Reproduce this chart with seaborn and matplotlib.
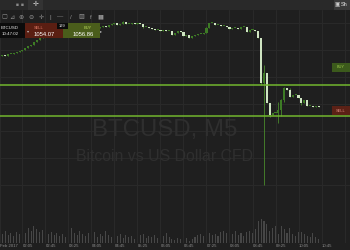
import numpy as np
import pandas as pd
import matplotlib
matplotlib.use("Agg")
import matplotlib.pyplot as plt
from matplotlib.patches import Rectangle
import seaborn as sns

# ---------------- data (5-minute BTCUSD candles) ----------------
first_open = 1064.0
close = [
    1064.2, 1064.4, 1064.2, 1064.6, 1064.6, 1064.8, 1065.0, 1065.2, 1065.4, 1065.8,
    1066.2, 1066.4, 1067.0, 1067.4, 1067.8, 1068.0, 1068.2, 1068.4, 1068.6, 1068.8,
    1068.8, 1069.0, 1069.0, 1069.2, 1069.2, 1069.4, 1069.4, 1069.6, 1069.4, 1069.6,
    1069.6, 1069.8, 1069.8, 1070.0, 1069.8, 1070.0, 1070.2, 1070.0, 1070.4, 1070.6,
    1070.8, 1070.4, 1070.6, 1071.0, 1070.6, 1070.6, 1070.8, 1070.6, 1070.8, 1070.6,
    1070.0, 1070.0, 1069.8, 1069.6, 1069.4, 1069.4, 1069.2, 1069.4, 1069.2, 1069.2,
    1068.4, 1068.8, 1069.2, 1069.0, 1068.2, 1068.4, 1067.8, 1068.2, 1068.4, 1068.6,
    1068.6, 1068.8, 1069.8, 1070.8, 1070.8, 1070.4, 1070.4, 1070.2, 1070.2, 1070.0,
    1069.6, 1069.8, 1069.8, 1069.6, 1070.0, 1070.0, 1069.0, 1069.4, 1069.4, 1069.2,
    1067.8, 1058.8, 1060.8, 1054.8, 1052.4, 1052.8, 1052.8, 1053.4, 1055.4, 1057.8,
    1057.4, 1056.0, 1056.4, 1056.4, 1055.8, 1054.8, 1055.4, 1054.2, 1054.2, 1054.0,
    1054.2, 1054.0,
]
# visible wick extremes (candle index -> price)
wick_high = {43: 1071.2, 72: 1070.0, 91: 1067.8, 92: 1062.4, 93: 1060.8, 97: 1055.0,
             98: 1055.6, 99: 1058.0, 101: 1057.8}
wick_low = {50: 1069.8, 91: 1058.4, 92: 1038.4, 94: 1052.0, 97: 1050.8, 98: 1052.2,
            99: 1055.0, 105: 1054.4}
volume = [
    6, 9, 12, 8, 10, 7, 11, 9, 13, 10, 15, 12, 17, 14, 11, 13,
    12, 9, 11, 8, 10, 7, 9, 6, 14, 15, 10, 8, 12, 9, 7, 10,
    8, 11, 6, 9, 7, 12, 8, 6, 10, 7, 9, 5, 8, 6, 7, 4,
    6, 8, 9, 5, 7, 6, 8, 5, 9, 7, 10, 6, 4, 3, 5, 4,
    3, 5, 2, 4, 6, 8, 9, 7, 12, 10, 8, 9, 7, 11, 12, 10,
    13, 9, 12, 8, 10, 7, 11, 12, 10, 14, 22, 24, 22, 19, 12, 15,
    17, 9, 17, 14, 10, 15, 9, 7, 11, 11, 9, 7, 6, 10, 6, 4,
]
tick_pos = [0.2, 8, 16, 24, 32, 40, 48, 56, 64, 72, 80, 88, 96, 104, 112, 120]
tick_lab = ["Feb 2017", "02:05", "02:45", "03:25", "04:05", "04:45", "05:25", "06:05",
            "06:45", "07:25", "08:05", "08:45", "09:25", "10:05", "10:45", ""]
buy_level = 1058.4
sell_level = 1052.2
grid_levels = [1070.8, 1065.4, 1060.0, 1054.6, 1049.2, 1043.8, 1038.4]

# ---------------- styling ----------------
W, H = 350, 250
BG = "#1f1f1f"
GRID = "#292929"
sns.set_style("dark", {"axes.facecolor": BG, "figure.facecolor": BG})
plt.rcParams["font.family"] = ["Liberation Sans", "DejaVu Sans"]

fig = plt.figure(figsize=(W / 100, H / 100), dpi=100)
fig.patch.set_facecolor(BG)

ax_top, ax_bot = 10, 243
ax = fig.add_axes([0, (H - ax_bot) / H, 1, (ax_bot - ax_top) / H])
ax.set_facecolor(BG)

df = pd.DataFrame({"close": close})
df["open"] = [first_open] + close[:-1]
df["idx"] = np.arange(len(df))
df["high"] = [max(wick_high.get(i, -1e9), o, c) for i, o, c in zip(df.idx, df.open, df.close)]
df["low"] = [min(wick_low.get(i, 1e9), o, c) for i, o, c in zip(df.idx, df.open, df.close)]
df["volume"] = volume

# volume (behind, own scale)
ax2 = ax.twinx()
ax2.set_zorder(0)
ax.set_zorder(1)
ax.patch.set_visible(False)
sns.barplot(data=df, x="idx", y="volume", native_scale=True, color="#474747",
            saturation=1, width=0.36, errorbar=None, linewidth=0,
            edgecolor="none", ax=ax2)
ax2.set_ylim(0, ax_bot - ax_top)
ax2.set_ylabel("")
ax2.set_yticks([])
for s in ax2.spines.values():
    s.set_visible(False)

# candles
up = df.close >= df.open
ax.vlines(df.idx, df.low, df.high, color="#4a8a2c", lw=0.6, zorder=3)
body_h = np.maximum((df.close - df.open).abs(), 0.22)
body_b = np.minimum(df.open, df.close)
ax.bar(df.idx[up], body_h[up], bottom=body_b[up], width=0.72, color="#3d7b25",
       edgecolor="none", linewidth=0, zorder=4)
ax.bar(df.idx[~up], body_h[~up], bottom=body_b[~up], width=0.72, color="#cfe5c2",
       edgecolor="none", linewidth=0, zorder=4)

ax.axhline(buy_level, color="#72b62e", lw=1.1, zorder=5)
ax.axhline(sell_level, color="#72b62e", lw=1.1, zorder=5)

ax.set_xlim(0.2, 121.9)
ax.set_ylim(1075.4 - 0.2 * ax_bot, 1075.4 - 0.2 * ax_top)
ax.set_xticks(tick_pos)
ax.set_xticklabels(tick_lab, fontsize=3.1, color="#8c8c8c", ha="left")
ax.set_yticks(grid_levels)
ax.tick_params(axis="x", length=0, pad=0.8)
ax.tick_params(axis="y", length=0, labelleft=False, labelright=False)
ax.grid(True, color=GRID, lw=0.8)
ax.set_axisbelow(True)
ax.set_xlabel("")
ax.set_ylabel("")
for s in ax.spines.values():
    s.set_visible(False)

# watermark
ax.text(0.471, 0.485, "BTCUSD, M5", transform=ax.transAxes, fontsize=17.3,
        color="#2f2f2f", ha="center", va="center", zorder=2)
ax.text(0.471, 0.37, "Bitcoin vs US Dollar CFD", transform=ax.transAxes,
        fontsize=11.4, color="#2f2f2f", ha="center", va="center", zorder=2)

# ---------------- platform chrome (figure overlay, pixel coordinates) ----------------
def fx(x):
    return x / W

def fy(y):
    return 1 - y / H

def rect(x0, y0, x1, y1, color, z=6):
    fig.add_artist(Rectangle((fx(x0), fy(y1)), (x1 - x0) / W, (y1 - y0) / H,
                             transform=fig.transFigure, facecolor=color,
                             edgecolor="none", zorder=z))

def txt(x, y, s, size, color, ha="center", weight="normal", z=7):
    fig.text(fx(x), fy(y), s, fontsize=size, color=color, ha=ha, va="center",
             weight=weight, zorder=z)

# top bar
rect(0, 0, 350, 10, "#292929")
rect(28, 0, 43, 10, "#333333")
txt(17, 5, "■", 3.5, "#8a8a8a")
txt(22, 5, "■", 3.5, "#8a8a8a")
txt(35.5, 5, "✛", 5, "#dddddd")
rect(334, 0, 350, 10, "#3a3a3a")
txt(337, 5, "▣", 4, "#cfcfcf")
txt(341, 5, "Sh", 4, "#e0e0e0", ha="left")

# toolbar icons
icons = ["▢", "⊿", "⊕", "⊖", "✛", "|", "—", "/", "▨", "f", "▮▮"]
icon_x = [4.5, 11.5, 21.5, 31.5, 41.5, 50.5, 60.5, 70.5, 81.5, 90.5, 101]
for s, x in zip(icons, icon_x):
    txt(x, 17, s, 4.5, "#8e8e8e")

# quote panel
rect(0, 23, 25, 38, "#0b0b0b")
txt(10, 28, "BTCUSD", 3.2, "#e8e8e8")
txt(10.5, 34, "10:47:02", 3.2, "#e8e8e8")
rect(25, 23, 63, 38, "#5a1e12")
txt(39, 28, "SELL", 2.9, "#e07b66")
txt(44, 34, "1054.07", 4.2, "#ffffff")
txt(28, 31, "▾", 3, "#bbbbbb")
rect(63, 23, 100, 38, "#4a5d1b")
txt(88, 28, "BUY", 2.9, "#b8d85a")
txt(83.5, 34, "1056.86", 4.2, "#ffffff")
txt(101.5, 31, "▸", 3, "#bbbbbb")
rect(57, 23, 68, 28.5, "#0b0b0b", z=8)
txt(62.5, 25.8, "199", 2.9, "#e8e8e8", z=9)

# right-hand level tags
rect(332, 63, 350, 72, "#3c5a1c")
txt(341, 67.5, "BUY", 2.8, "#9cc84a")
rect(332, 106, 350, 115, "#5b2116")
txt(341, 110.5, "SELL", 2.8, "#dc8a7e")

fig.savefig("out.png", dpi=100, facecolor=BG)
